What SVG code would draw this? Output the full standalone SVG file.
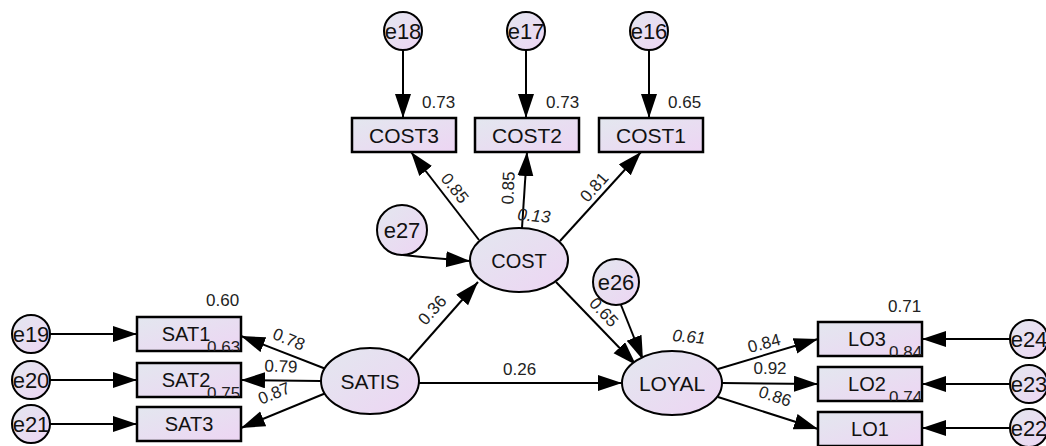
<svg xmlns="http://www.w3.org/2000/svg" width="1046" height="446" viewBox="0 0 1046 446">
<defs>
<linearGradient id="g" x1="0" y1="0" x2="1" y2="1">
<stop offset="0" stop-color="#e3e7ef"/>
<stop offset="1" stop-color="#edd5f3"/>
</linearGradient>
<marker id="ah" markerUnits="userSpaceOnUse" markerWidth="26" markerHeight="18" refX="24" refY="8" orient="auto">
<path d="M0,0 L24,8 L0,16 z" fill="#000"/>
</marker>
<clipPath id="cSAT1"><rect x="137" y="317" width="104" height="34"/></clipPath>
<clipPath id="cSAT2"><rect x="137" y="363" width="104" height="34"/></clipPath>
<clipPath id="cLO3"><rect x="818" y="322" width="104" height="34"/></clipPath>
<clipPath id="cLO2"><rect x="818" y="367" width="104" height="34"/></clipPath>
</defs>
<style>
.box{fill:url(#g);stroke:#000;stroke-width:2.5}
.ell{fill:url(#g);stroke:#000;stroke-width:2}
.lbl{font-family:"Liberation Sans",Arial,sans-serif;fill:#111;text-anchor:middle}
.num{font-family:"Liberation Sans",Arial,sans-serif;font-size:17px;fill:#222}
.mid{text-anchor:middle}
.it{font-style:italic}
.con{stroke:#000;stroke-width:2;fill:none;marker-end:url(#ah)}
</style>

<g id="connectors">
<line class="con" x1="403" y1="50" x2="403" y2="118"/>
<line class="con" x1="526" y1="50" x2="526" y2="118"/>
<line class="con" x1="649" y1="50" x2="649" y2="118"/>
<line class="con" x1="50" y1="334" x2="137" y2="334"/>
<line class="con" x1="50" y1="380" x2="137" y2="380"/>
<line class="con" x1="50" y1="424" x2="137" y2="424"/>
<line class="con" x1="1010" y1="339" x2="922" y2="339"/>
<line class="con" x1="1010" y1="384" x2="922" y2="384"/>
<line class="con" x1="1010" y1="428" x2="922" y2="428"/>
<path class="con" d="M403,255 Q430,258 470,261"/>
<line class="con" x1="621" y1="305" x2="643" y2="360"/>
<line class="con" x1="479" y1="240" x2="411" y2="152"/>
<line class="con" x1="522" y1="228" x2="527" y2="152"/>
<line class="con" x1="560" y1="241" x2="641" y2="152"/>
<line class="con" x1="409" y1="360" x2="478" y2="282"/>
<line class="con" x1="556" y1="282" x2="636" y2="365"/>
<line class="con" x1="419" y1="383" x2="622" y2="383"/>
<line class="con" x1="326" y1="369" x2="241" y2="336"/>
<line class="con" x1="321" y1="381" x2="241" y2="380"/>
<line class="con" x1="326" y1="393" x2="241" y2="428"/>
<line class="con" x1="718" y1="369" x2="818" y2="339"/>
<line class="con" x1="722" y1="383" x2="818" y2="384"/>
<line class="con" x1="718" y1="397" x2="818" y2="429"/>
</g>

<g id="e18"><circle class="ell" cx="403" cy="31" r="19"/><text class="lbl" x="403" y="39" font-size="22">e18</text></g>
<g id="e17"><circle class="ell" cx="526" cy="31" r="19"/><text class="lbl" x="526" y="39" font-size="22">e17</text></g>
<g id="e16"><circle class="ell" cx="649" cy="31" r="19"/><text class="lbl" x="649" y="39" font-size="22">e16</text></g>
<g id="e19"><circle class="ell" cx="31" cy="334" r="19"/><text class="lbl" x="31" y="342" font-size="22">e19</text></g>
<g id="e20"><circle class="ell" cx="31" cy="380" r="19"/><text class="lbl" x="31" y="388" font-size="22">e20</text></g>
<g id="e21"><circle class="ell" cx="31" cy="424" r="19"/><text class="lbl" x="31" y="432" font-size="22">e21</text></g>
<g id="e24"><circle class="ell" cx="1029" cy="339" r="19"/><text class="lbl" x="1029" y="347" font-size="22">e24</text></g>
<g id="e23"><circle class="ell" cx="1029" cy="384" r="19"/><text class="lbl" x="1029" y="392" font-size="22">e23</text></g>
<g id="e22"><circle class="ell" cx="1029" cy="428" r="19"/><text class="lbl" x="1029" y="436" font-size="22">e22</text></g>
<g id="e27"><circle class="ell" cx="402" cy="230" r="25"/><text class="lbl" x="402" y="238" font-size="22">e27</text></g>
<g id="e26"><circle class="ell" cx="616" cy="282" r="23"/><text class="lbl" x="616" y="290" font-size="22">e26</text></g>

<g id="COST3"><rect class="box" x="352" y="118" width="104" height="34"/><text class="lbl" x="404" y="143" font-size="21">COST3</text></g>
<g id="COST2"><rect class="box" x="475" y="118" width="104" height="34"/><text class="lbl" x="527" y="143" font-size="21">COST2</text></g>
<g id="COST1"><rect class="box" x="599" y="118" width="104" height="34"/><text class="lbl" x="651" y="143" font-size="21">COST1</text></g>
<g id="SAT1"><rect class="box" x="137" y="317" width="104" height="34"/><text class="lbl" x="186" y="341" font-size="20">SAT1</text></g>
<g id="SAT2"><rect class="box" x="137" y="363" width="104" height="34"/><text class="lbl" x="186" y="387" font-size="20">SAT2</text></g>
<g id="SAT3"><rect class="box" x="137" y="407" width="104" height="34"/><text class="lbl" x="189" y="431" font-size="20">SAT3</text></g>
<g id="LO3"><rect class="box" x="818" y="322" width="104" height="34"/><text class="lbl" x="867" y="346" font-size="20">LO3</text></g>
<g id="LO2"><rect class="box" x="818" y="367" width="104" height="34"/><text class="lbl" x="867" y="391" font-size="20">LO2</text></g>
<g id="LO1"><rect class="box" x="818" y="412" width="104" height="34"/><text class="lbl" x="870" y="436" font-size="20">LO1</text></g>

<g id="COST"><ellipse class="ell" cx="519" cy="260" rx="49" ry="32"/><text class="lbl" x="519" y="268" font-size="20">COST</text></g>
<g id="SATIS"><ellipse class="ell" cx="370" cy="381" rx="49" ry="33"/><text class="lbl" x="370" y="389" font-size="21">SATIS</text></g>
<g id="LOYAL"><ellipse class="ell" cx="672" cy="383" rx="50" ry="32"/><text class="lbl" x="672" y="391" font-size="21">LOYAL</text></g>

<g id="labels">
<text class="num" x="422" y="108">0.73</text>
<text class="num" x="546" y="108">0.73</text>
<text class="num" x="668" y="108">0.65</text>
<text class="num mid" transform="translate(455,188) rotate(52)" y="6">0.85</text>
<text class="num mid" transform="translate(508,188) rotate(-87)" y="6">0.85</text>
<text class="num mid" transform="translate(594,187) rotate(-48)" y="6">0.81</text>
<text class="num it" transform="translate(517,220) rotate(5)">0.13</text>
<text class="num mid" transform="translate(432,310) rotate(-48)" y="6">0.36</text>
<text class="num mid" transform="translate(604,312) rotate(47)" y="6">0.65</text>
<text class="num it" transform="translate(672,341) rotate(5)">0.61</text>
<text class="num" x="503" y="375">0.26</text>
<text class="num" x="206" y="306">0.60</text>
<text class="num" x="207" y="353" clip-path="url(#cSAT1)">0.63</text>
<text class="num" x="207" y="399" clip-path="url(#cSAT2)">0.75</text>
<text class="num mid" transform="translate(289,339) rotate(22)" y="6">0.78</text>
<text class="num mid" transform="translate(281,366) rotate(2)" y="6">0.79</text>
<text class="num mid" transform="translate(274,393) rotate(-22)" y="6">0.87</text>
<text class="num" x="888" y="312">0.71</text>
<text class="num" x="889" y="358" clip-path="url(#cLO3)">0.84</text>
<text class="num" x="889" y="403" clip-path="url(#cLO2)">0.74</text>
<text class="num mid" transform="translate(764,343) rotate(-15)" y="6">0.84</text>
<text class="num mid" transform="translate(770,368)" y="6">0.92</text>
<text class="num mid" transform="translate(775,396) rotate(18)" y="6">0.86</text>
</g>
</svg>
